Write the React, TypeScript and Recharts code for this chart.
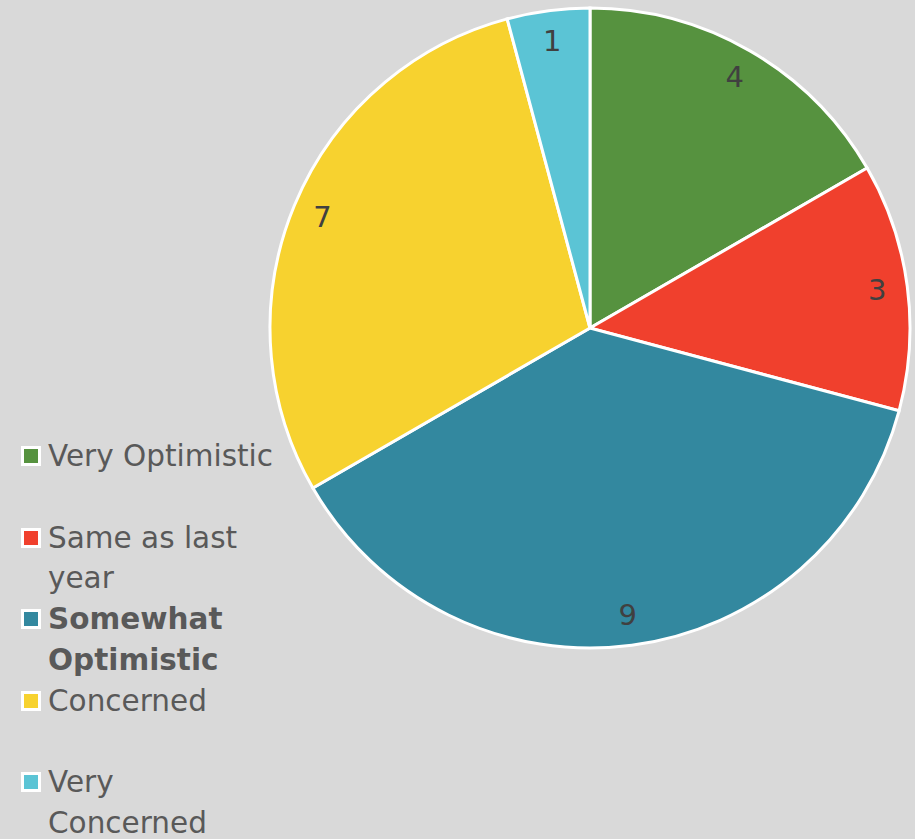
import React from "react";
import { PieChart, Pie, Cell } from "recharts";

const categories = ["Very Optimistic", "Same as last year", "Somewhat Optimistic", "Concerned", "Very Concerned"];
const counts = [4, 3, 9, 7, 1];
const colors = ["#56923F", "#F0402D", "#33889F", "#F7D22F", "#5BC4D5"];
const boldFlags = [false, false, true, false, false];

const data = categories.map((name, i) => ({ name, value: counts[i] }));

const RAD = Math.PI / 180;
const FONT = "'DejaVu Sans', sans-serif";

const renderLabel = (props: any) => {
  const { cx, cy, midAngle, outerRadius, value } = props;
  const r = outerRadius * 0.905;
  const x = cx + r * Math.cos(-midAngle * RAD);
  const y = cy + r * Math.sin(-midAngle * RAD);
  return (
    <text x={x} y={y} fill="#404040" fontSize={29} fontFamily={FONT} textAnchor="middle" dominantBaseline="central">
      {value}
    </text>
  );
};

const LegendBox = () => (
  <div
    style={{
      position: "absolute",
      left: 21,
      top: 436,
      fontFamily: FONT,
      fontSize: 29.5,
      color: "#595959",
      lineHeight: "40.5px",
    }}
  >
    {categories.map((c, i) => (
      <div key={c} style={{ display: "flex", alignItems: "flex-start", height: 81.5 }}>
        <div
          style={{
            width: 14,
            height: 14,
            background: colors[i],
            border: "3px solid #fff",
            marginTop: 10,
            marginRight: 7,
            flexShrink: 0,
          }}
        />
        <div style={{ width: 232, fontWeight: boldFlags[i] ? 700 : 400 }}>{c}</div>
      </div>
    ))}
  </div>
);

export default function App() {
  return (
    <div style={{ width: 915, height: 839, background: "#D9D9D9", position: "relative" }}>
      <style>{`body{margin:0;}`}</style>
      <PieChart width={915} height={839} margin={{ top: 0, right: 0, bottom: 0, left: 0 }}>
        <Pie
          data={data}
          dataKey="value"
          nameKey="name"
          cx={590}
          cy={328}
          outerRadius={320}
          startAngle={90}
          endAngle={-270}
          stroke="#FFFFFF"
          strokeWidth={3}
          label={renderLabel}
          labelLine={false}
          isAnimationActive={false}
        >
          {data.map((d, i) => (
            <Cell key={d.name} fill={colors[i]} />
          ))}
        </Pie>
      </PieChart>
      <LegendBox />
    </div>
  );
}
